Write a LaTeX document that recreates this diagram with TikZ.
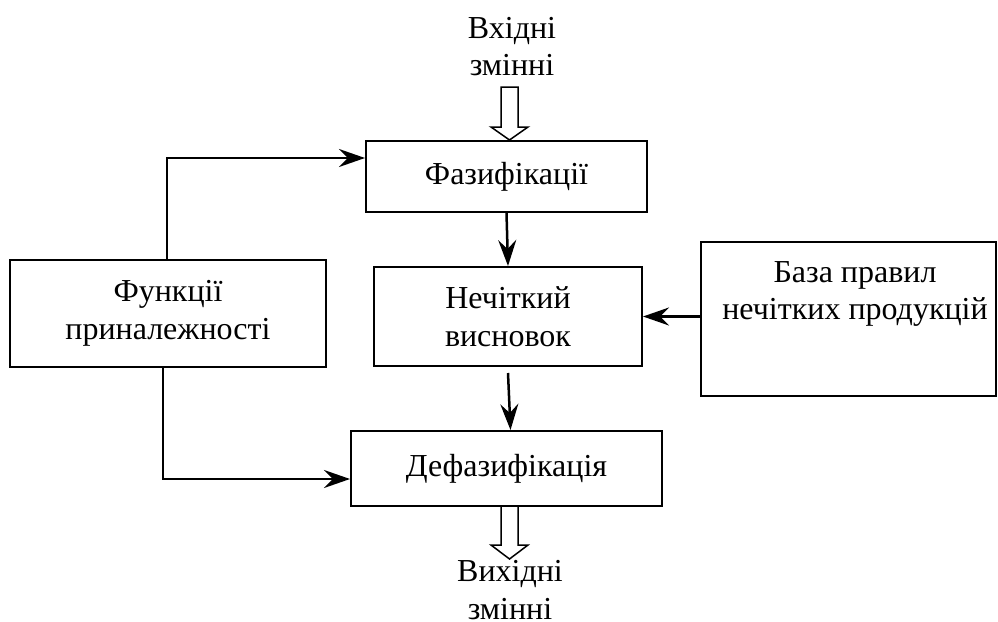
\documentclass[tikz,border=0pt]{standalone}
\usepackage{fontspec}
\setmainfont{Liberation Serif}
\usetikzlibrary{arrows.meta,calc}

\tikzset{
  blockbox/.style={draw, line width=2pt, inner sep=0pt, align=center,
    font=\fontsize{32}{37.5}\selectfont},
  plaintext/.style={inner sep=0pt, align=center, font=\fontsize{32}{37.5}\selectfont},
  flow/.style={line width=2.5pt, -{Stealth[length=26pt, width=18pt, inset=9pt]}},
  hollow/.style={draw, line width=1.5pt, fill=white, line join=miter},
}

\begin{document}
\begin{tikzpicture}[x=1pt, y=-1pt]
  \useasboundingbox (0,0) rectangle (998,621);

  % processing blocks
  \node[blockbox, minimum width=281pt, minimum height=71pt] (faz) at (506.5,176.5) {Фазифікації};
  \node[blockbox, minimum width=268pt, minimum height=99pt] (nech) at (508,316.5) {Нечіткий\\висновок};
  \node[blockbox, minimum width=311pt, minimum height=75pt] (defaz) at (506.5,468.5) {Дефазифікація};
  \node[blockbox, minimum width=316pt, minimum height=107pt] (funk) at (168,313.5) {Функції\\приналежності};
  \node[blockbox, minimum width=295pt, minimum height=154pt] (baza) at (848.5,319) {};
  \node[plaintext] (bazatext) at (855,294) {База правил\\нечітких продукцій};

  % inputs and outputs
  \node[plaintext] (inp) at (512,46.5) {Вхідні\\змінні};
  \node[plaintext] (outp) at (510,590) {Вихідні\\змінні};

  % hollow input arrow
  \draw[hollow] (501,87) -- (518,87) -- (518,127) -- (528,127) -- (509.5,140)
    -- (491,127) -- (501,127) -- cycle;
  % hollow output arrow
  \draw[hollow] (501,506) -- (518,506) -- (518,545) -- (528,545) -- (509.5,559)
    -- (491,545) -- (501,545) -- cycle;

  % signal flow
  \draw[flow] (faz.south) -- (nech.north);
  \draw[flow] ($(nech.south)+(0,6)$) -- ($(defaz.north)+(4,0)$);
  \draw[flow] (baza.west |- nech.east) -- (nech.east);
  \draw[flow] ([xshift=-1pt]funk.north) |- ([yshift=18.5pt]faz.west);
  \draw[flow] ([xshift=-5pt]funk.south) |- ([yshift=-10.5pt]defaz.west);
\end{tikzpicture}
\end{document}
